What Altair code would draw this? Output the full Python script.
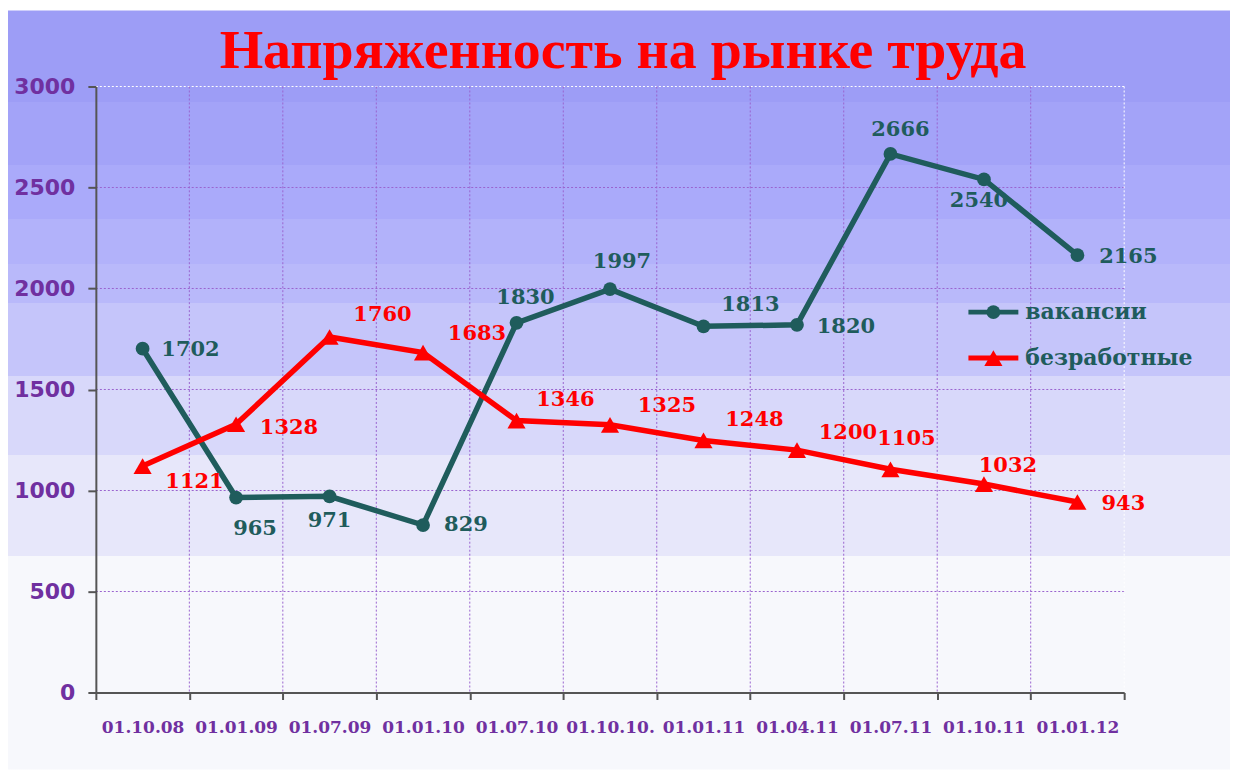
import altair as alt
import pandas as pd

# ---------------- data ----------------
dates = ["01.10.08", "01.01.09", "01.07.09", "01.01.10", "01.07.10", "01.10.10.",
         "01.01.11", "01.04.11", "01.07.11", "01.10.11", "01.01.12"]
vacancies = [1702, 965, 971, 829, 1830, 1997, 1813, 1820, 2666, 2540, 2165]
unemployed = [1121, 1328, 1760, 1683, 1346, 1325, 1248, 1200, 1105, 1032, 943]
series_names = ["вакансии", "безработные"]
title_text = "Напряженность на рынке труда"
y_ticks = [0, 500, 1000, 1500, 2000, 2500, 3000]

# ---------------- styling / layout ----------------
series_colors = ["#1f5c5c", "#ff0000"]
series_shapes = ["circle", "triangle-up"]
series_sizes = [190, 330]
# label offsets (pixels) for the value labels
vac_dx = [48, 19, 0, 43, 9, 12, 47, 49, 10, -5, 51]
vac_dy = [1, 31, 25, 0, -25, -27, -21, 2, -24, 22, 2]
une_dx = [52, 53, 53, 54, 49, 57, 51, 51, 16, 24, 46]
une_dy = [16, 4, -22, -19, -21, -19, -20, -17, -30, -18, 2]

W, H = 1030, 607
YMAX = 3000
PAD = {"left": 88, "top": 78, "right": 106, "bottom": 77}

band_offsets = [0.0, 0.121, 0.203, 0.275, 0.334, 0.386, 0.481, 0.586, 0.719, 1.0]
band_colors = ["#9d9df6", "#a3a3f8", "#aaaafa", "#b2b2fa", "#b9b9fa",
               "#c5c5fa", "#d8d8fa", "#e7e7fa", "#f7f8fc"]
stops = []
for i, c in enumerate(band_colors):
    stops.append(alt.GradientStop(offset=band_offsets[i], color=c))
    stops.append(alt.GradientStop(offset=band_offsets[i + 1], color=c))
bg_gradient = alt.LinearGradient(gradient="linear", stops=stops, x1=0, x2=0, y1=0, y2=1)

# ---------------- table ----------------
rows = []
for i, d in enumerate(dates):
    rows.append({"date": d, "series": series_names[0], "value": vacancies[i],
                 "ldx": vac_dx[i], "ldy": vac_dy[i]})
for i, d in enumerate(dates):
    rows.append({"date": d, "series": series_names[1], "value": unemployed[i],
                 "ldx": une_dx[i], "ldy": une_dy[i]})
df = pd.DataFrame(rows)
half_band = W / len(dates) / 2.0
px_per_unit = H / YMAX

grid_purple = "#9a63cf"
label_purple = "#7030a0"
axis_gray = "#555555"

x_scale = alt.Scale(type="band", domain=dates, paddingInner=0, paddingOuter=0)
y_scale = alt.Scale(domain=[0, YMAX], nice=False)

x_axis = alt.Axis(
    title=None, labelAngle=0, tickBand="extent", grid=False, zindex=1,
    labelFont="DejaVu Serif", labelFontWeight="bold", labelFontSize=17,
    labelColor=label_purple, labelPadding=20,
    domainColor=axis_gray, domainWidth=2, tickColor=axis_gray, tickWidth=2, tickSize=7,
)
y_axis = alt.Axis(
    title=None, values=y_ticks, format="d", grid=False, zindex=1,
    labelFont="DejaVu Sans", labelFontWeight="bold", labelFontSize=22,
    labelColor=label_purple, labelPadding=13,
    domainColor=axis_gray, domainWidth=2, tickColor=axis_gray, tickWidth=2, tickSize=8,
)

x_enc = alt.X("date:N", sort=dates, bandPosition=0.5, scale=x_scale, axis=x_axis)
y_enc = alt.Y("value:Q", scale=y_scale, axis=y_axis)

color_scale = alt.Scale(domain=series_names, range=series_colors)
one_row = alt.Data(values=[{"a": 1}])

background = alt.Chart(one_row).mark_rect(fill=bg_gradient).encode(
    x=alt.value(-PAD["left"]), x2=alt.value(W + PAD["right"]),
    y=alt.value(-76), y2=alt.value(H + PAD["bottom"]),
)

title = alt.Chart(one_row).mark_text(
    text=title_text, font="Liberation Serif", fontSize=56, fontWeight="bold",
    color="#ff0000", align="center", baseline="alphabetic",
).encode(x=alt.value(W / 2 + 13), y=alt.value(-19))

# grid lines (rules above the background, below the data)
hgrid = alt.Chart(pd.DataFrame({"value": y_ticks[1:]})).mark_rule(
    strokeDash=[2, 2], strokeWidth=1
).encode(
    y=alt.Y("value:Q", scale=y_scale, axis=y_axis),
    x=alt.value(0), x2=alt.value(W),
    color=alt.condition(alt.datum.value == YMAX, alt.value("#ffffff"), alt.value(grid_purple)),
)
vgrid = alt.Chart(pd.DataFrame({"date": dates})).mark_rule(
    strokeDash=[2, 2], strokeWidth=1
).encode(
    x=alt.X("date:N", sort=dates, bandPosition=1, scale=x_scale, axis=x_axis),
    y=alt.value(0), y2=alt.value(H),
    color=alt.condition(alt.datum.date == dates[-1], alt.value("#ffffff"), alt.value(grid_purple)),
)

base = alt.Chart(df)

lines = base.mark_line(strokeWidth=5.5).encode(
    x=x_enc, y=y_enc,
    color=alt.Color("series:N", scale=color_scale, legend=None),
    detail="series:N",
)

points = base.mark_point(filled=True, opacity=1).encode(
    x=x_enc, y=y_enc,
    color=alt.Color("series:N", scale=color_scale, legend=None),
    shape=alt.Shape("series:N", scale=alt.Scale(domain=series_names, range=series_shapes), legend=None),
    size=alt.Size("series:N", scale=alt.Scale(domain=series_names, range=series_sizes), legend=None),
)

labels = base.transform_calculate(
    lx="datum.ldx + %f" % half_band,
    ly="datum.value - datum.ldy / %f" % px_per_unit,
).mark_text(
    font="DejaVu Serif", fontWeight="bold", fontSize=21, align="center", baseline="middle"
).encode(
    x=alt.X("date:N", sort=dates, scale=x_scale, axis=x_axis),
    xOffset=alt.XOffset("lx:Q", scale=None),
    y=alt.Y("ly:Q", scale=y_scale, axis=y_axis),
    text=alt.Text("value:Q"),
    color=alt.Color("series:N", scale=color_scale, legend=None),
)

# legend (drawn as marks at the right of the plot)
LEG_X0, LEG_X1, LEG_TX = W - 156, W - 106, W - 99
LEG_Y = [226, 272]
legend_layers = []
for i, name in enumerate(series_names):
    legend_layers.append(alt.Chart(one_row).mark_rule(color=series_colors[i], strokeWidth=5).encode(
        x=alt.value(LEG_X0), x2=alt.value(LEG_X1), y=alt.value(LEG_Y[i])))
    legend_layers.append(alt.Chart(one_row).mark_point(
        shape=series_shapes[i], filled=True, opacity=1, color=series_colors[i], size=series_sizes[i]
    ).encode(x=alt.value((LEG_X0 + LEG_X1) / 2), y=alt.value(LEG_Y[i])))
    legend_layers.append(alt.Chart(one_row).mark_text(
        text=name, font="DejaVu Serif", fontWeight="bold", fontSize=22, color="#1f5c5c",
        align="left", baseline="middle"
    ).encode(x=alt.value(LEG_TX), y=alt.value(LEG_Y[i])))

chart = alt.layer(background, title, hgrid, vgrid, lines, points, labels, *legend_layers).properties(
    width=W, height=H,
    autosize=alt.AutoSizeParams(type="none"),
    padding=PAD,
    background="white",
).configure_view(stroke=None)

chart.save("out.html", embed_options={"renderer": "svg", "actions": False})
